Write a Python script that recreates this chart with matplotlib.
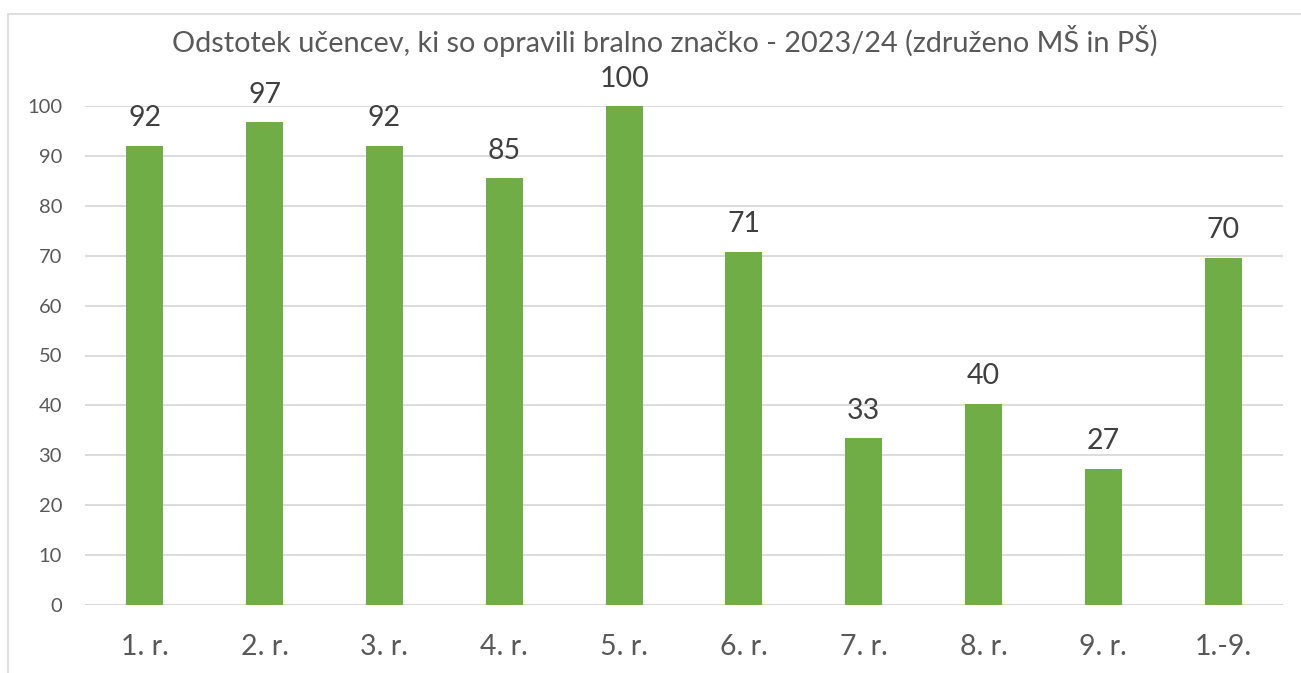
import matplotlib
matplotlib.use("Agg")
import matplotlib.pyplot as plt
from matplotlib.patches import Rectangle

categories = ["1. r.", "2. r.", "3. r.", "4. r.", "5. r.", "6. r.", "7. r.", "8. r.", "9. r.", "1.-9."]
values = [92.0, 96.7, 92.0, 85.5, 100.0, 70.8, 33.4, 40.3, 27.3, 69.6]
labels = ["92", "97", "92", "85", "100", "71", "33", "40", "27", "70"]
title = "Odstotek učencev, ki so opravili bralno značko - 2023/24 (združeno MŠ in PŠ)"

plt.rcParams['font.family'] = ['Lato', 'DejaVu Sans']
TXT = "#595959"
GRID = "#D9D9D9"
GREEN = "#70AD47"

fig = plt.figure(figsize=(13.01, 6.73), dpi=100)
fig.patch.set_facecolor("white")

# chart area border (extends beyond the image right/bottom)
fig.add_artist(Rectangle((8/1301, -0.2), 1.5, 1 - 14/673 + 0.2, transform=fig.transFigure,
                         fill=False, edgecolor=GRID, linewidth=1.2, clip_on=False))

ax = fig.add_axes([85/1301, 1 - 605/673, (1283 - 85)/1301, (605 - 106)/673])
x = list(range(len(categories)))
ax.bar(x, values, width=0.31, color=GREEN, zorder=3)
ax.set_xlim(-0.5, len(categories) - 0.5)
ax.set_ylim(0, 100)
ax.set_yticks(range(0, 101, 10))
ax.yaxis.grid(True, color=GRID, linewidth=1.3, zorder=0)
ax.set_axisbelow(True)
for s in ax.spines.values():
    s.set_visible(False)
ax.axhline(0, color=GRID, linewidth=1.5, zorder=1)
ax.tick_params(axis='y', length=0, pad=16.5, labelsize=14.5, labelcolor=TXT)
ax.tick_params(axis='x', length=0, pad=21, labelsize=20.5, labelcolor=TXT)
ax.set_xticks(x)
ax.set_xticklabels(categories)

for xi, v, lab in zip(x, values, labels):
    ax.annotate(lab, (xi, v), xytext=(0, 14), textcoords='offset points',
                ha='center', va='baseline', fontsize=20.5, color="#404040", zorder=4)

fig.text(665/1301, 1 - 52/673, title, ha='center', va='baseline', fontsize=20.8, color=TXT)

fig.savefig("out.png", dpi=100)
